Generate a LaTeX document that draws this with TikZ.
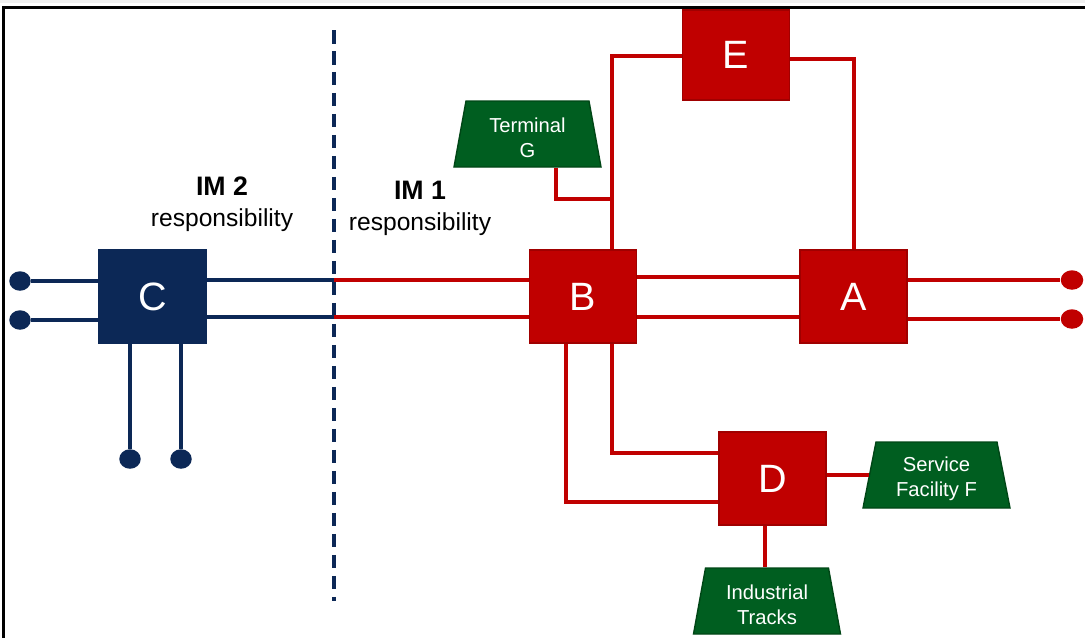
\documentclass[tikz,border=0pt]{standalone}
\usepackage{fontspec}
\setmainfont{Liberation Sans}
\usetikzlibrary{shapes.geometric}
\definecolor{navy}{RGB}{12,40,86}
\definecolor{rred}{RGB}{192,0,0}
\definecolor{rredd}{RGB}{160,0,0}
\definecolor{grn}{RGB}{0,94,32}
\definecolor{grnd}{RGB}{0,70,22}
\newcommand\imhead{\fontsize{15.2}{17.6}\selectfont\bfseries}
\newcommand\lowerstrut{\rule{0pt}{13pt}}
\tikzset{
  redbox/.style={rectangle, fill=rred, draw=rredd, line width=0.8pt, minimum width=2.14cm, minimum height=1.86cm, inner sep=0pt, text=white, font=\fontsize{22.5}{26}\selectfont},
  navybox/.style={redbox, fill=navy, draw=navy},
  facility/.style={trapezium, trapezium angle=76, trapezium stretches body, minimum width=2.94cm, minimum height=1.32cm, inner sep=0pt, fill=grn, draw=grnd, line width=0.8pt, text=white, align=center, font=\fontsize{11.5}{14.3}\selectfont},
  redline/.style={draw=rred, line width=2pt},
  navyline/.style={draw=navy, line width=2pt},
  reddot/.style={ellipse, fill=rred, minimum width=0.45cm, minimum height=0.39cm, inner sep=0pt},
  navydot/.style={ellipse, fill=navy, minimum width=0.43cm, minimum height=0.39cm, inner sep=0pt},
  lbl/.style={align=center, inner sep=0pt, font=\fontsize{14}{17.6}\selectfont},
}
\begin{document}
\begin{tikzpicture}[x=0.02cm, y=-0.02cm]
\useasboundingbox (0,0) rectangle (1085,637);
\fill[black!6] (0,0) rectangle (1085,2.5);
\draw[line width=1.7pt, line cap=rect] (3.5,637) -- (3.5,7.5) -- (1085,7.5);

% boxes
\node[navybox] (C) at (152.5,296.5) {C};
\node[redbox] (B) at (583,296.5) {B};
\node[redbox] (A) at (853.5,296.5) {A};
\node[redbox, minimum height=1.8cm] (E) at (736,55) {E};
\node[redbox] (D) at (772.5,478.5) {D};

% facilities
\node[facility] (G) at (527.5,134) {\lowerstrut Terminal\\G};
\node[facility] (F) at (936.5,475) {\lowerstrut Service\\Facility F};
\node[facility] (I) at (767,601) {\lowerstrut Industrial\\Tracks};

% labels
\node[lbl] (im2) at (222,204) {{\imhead IM 2}\\responsibility};
\node[lbl] (im1) at (420,208) {{\imhead IM 1}\\responsibility};

% dashed boundary
\coordinate (dtop) at (334,30);
\coordinate (dbot) at (334,601);
\draw[navy, line width=2pt, dash pattern=on 0.27cm off 0.15cm] (dtop) -- (dbot);

% C connections
\node[navydot] (c1) at (20,281) {};
\node[navydot] (c2) at (20,320) {};
\node[navydot] (c3) at (130,459) {};
\node[navydot] (c4) at (181,459) {};
\draw[navyline] (c1) -- (c1 -| C.west);
\draw[navyline] (c2) -- (c2 -| C.west);
\draw[navyline] (c3) -- (c3 |- C.south);
\draw[navyline] (c4) -- (c4 |- C.south);
\coordinate (d1) at (334,280);
\coordinate (d2) at (334,317);
\draw[navyline] (C.east |- d1) -- (d1);
\draw[navyline] (C.east |- d2) -- (d2);
\draw[redline] (d1) -- (d1 -| B.west);
\draw[redline] (d2) -- (d2 -| B.west);

% B - A
\coordinate (ba1) at (700,277);
\coordinate (ba2) at (700,317);
\draw[redline] (ba1 -| B.east) -- (ba1 -| A.west);
\draw[redline] (ba2 -| B.east) -- (ba2 -| A.west);

% A right ends
\node[reddot] (r1) at (1072,280) {};
\node[reddot] (r2) at (1072,319) {};
\draw[redline] (A.east |- r1) -- (r1);
\draw[redline] (A.east |- r2) -- (r2);

% B - E - A
\coordinate (jBE) at (612,56);
\draw[redline] (B.north -| jBE) -- (jBE) -- (jBE -| E.west);
\coordinate (jEA) at (854,59);
\draw[redline] (E.east |- jEA) -- (jEA) -- (jEA |- A.north);

% G
\coordinate (jG) at (556,199);
\draw[redline] (G.south -| jG) -- (jG) -- (jG -| jBE);

% B - D
\coordinate (jBD1) at (566,502);
\coordinate (jBD2) at (612,453);
\draw[redline] (B.south -| jBD1) -- (jBD1) -- (jBD1 -| D.west);
\draw[redline] (B.south -| jBD2) -- (jBD2) -- (jBD2 -| D.west);

% D - F, D - I
\draw[redline] (D.east |- F.west) -- (F.west);
\coordinate (jDI) at (765,540);
\draw[redline] (D.south -| jDI) -- (I.north -| jDI);
\end{tikzpicture}
\end{document}
